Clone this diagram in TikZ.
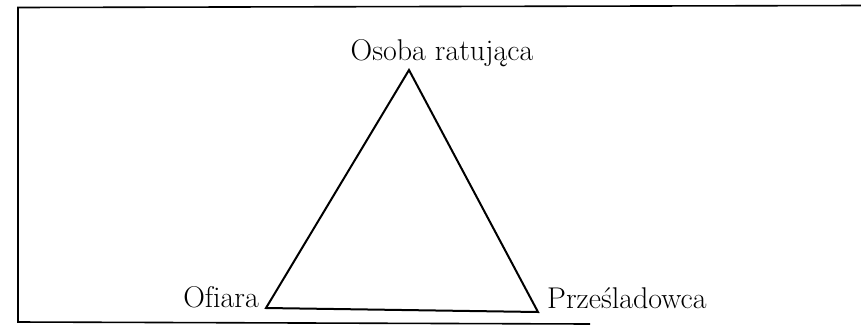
\documentclass[tikz,border=0pt]{standalone}
\usepackage{fontspec}
\begin{document}
\begin{tikzpicture}[x=1pt,y=-1pt,
  lbl/.style={inner sep=0pt,font=\fontsize{30}{36}\selectfont},
  edge/.style={line width=2pt,line join=miter},
  frame/.style={line width=1.6pt}]
\useasboundingbox (0,0) rectangle (861,327);
% frame (partial, as in the scan)
\draw[frame] (861,5.5) -- (18,7.5) -- (18,322) -- (590,324);
% vertices
\coordinate (A) at (409,70);
\coordinate (B) at (266,308);
\coordinate (C) at (538,312);
\draw[edge] (A) -- (B) -- (C) -- cycle;
% labels
\node[lbl,anchor=base] (top) at (442,60) {Osoba ratująca};
\node[lbl,anchor=base east] (left) at (259,307) {Of\kern0pt iara};
\node[lbl,anchor=base west] (right) at (547,308) {Prześladowca};
\end{tikzpicture}
\end{document}
